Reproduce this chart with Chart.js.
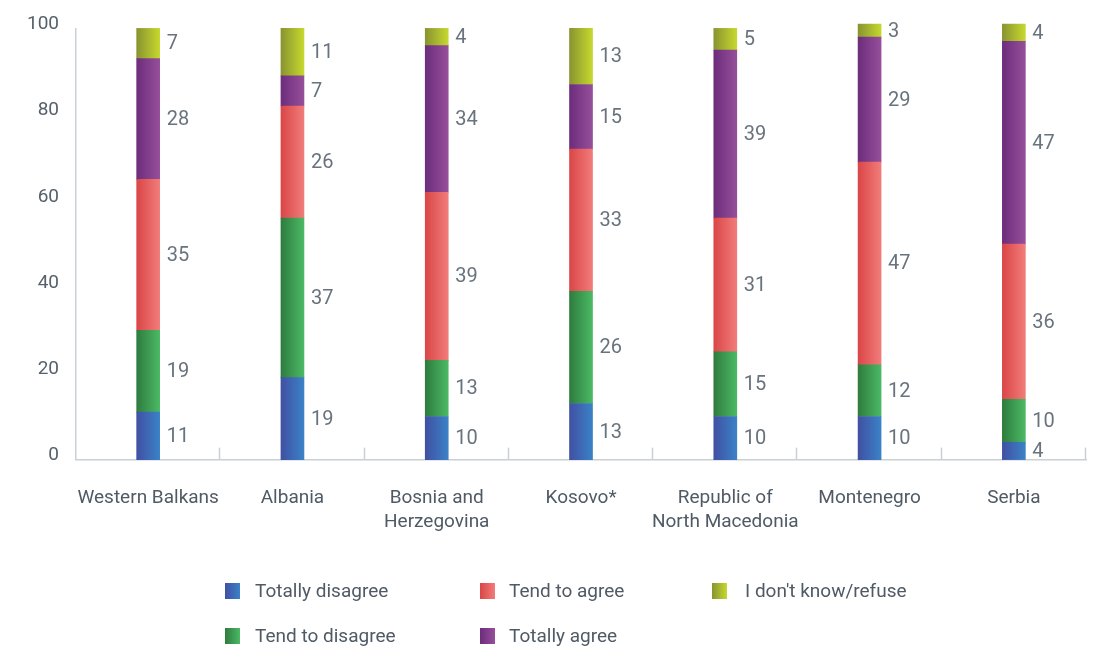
<!DOCTYPE html>
<html lang="en">
<head>
  <meta charset="UTF-8">
  <title>Stacked answers by economy</title>
  <script src="https://cdn.jsdelivr.net/npm/chart.js"></script>
  <style>
    html, body { margin: 0; padding: 0; background: #fff; }
    #wrap { position: relative; width: 1106px; height: 648px; }
    #chart { position: absolute; left: 0; top: 0; }
    .legend-item {
      position: absolute;
      font: 19px Roboto, sans-serif;
      color: #4f5a65;
      line-height: 20px;
      white-space: nowrap;
    }
    .legend-item i {
      position: absolute;
      width: 15px;
      height: 16px;
      top: 2px;
    }
  </style>
</head>
<body>
  <div id="wrap">
    <canvas id="chart" width="1106" height="648"></canvas>
    <div id="legend"></div>
  </div>

  <script>
    // Categories and series values
    var categories = ["Western Balkans", "Albania", ["Bosnia and", "Herzegovina"], "Kosovo*", ["Republic of", "North Macedonia"], "Montenegro", "Serbia"];
    var seriesNames = ["Totally disagree", "Tend to disagree", "Tend to agree", "Totally agree", "I don't know/refuse"];
    var totallyDisagree = [11, 19, 10, 13, 10, 10, 4];
    var tendToDisagree = [19, 37, 13, 26, 15, 12, 10];
    var tendToAgree = [35, 26, 39, 33, 31, 47, 36];
    var totallyAgree = [28, 7, 34, 15, 39, 29, 47];
    var dontKnow = [7, 11, 4, 13, 5, 3, 4];
    var yTicks = [0, 20, 40, 60, 80, 100];

    // left (dark) / right (light) colours of each series
    var gradients = [
      ["#4150a3", "#3a82c6"],
      ["#2e7c3e", "#4bb965"],
      ["#da4647", "#f17c7a"],
      ["#6c2d7c", "#964f9a"],
      ["#899430", "#c6d82e"]
    ];

    var BAR_W = 23;

    function barFill(index) {
      return function(ctx) {
        var chart = ctx.chart;
        var xScale = chart.scales.x;
        if (!chart.chartArea || !xScale) {
          return gradients[index][1];
        }
        var cx = xScale.getPixelForValue(ctx.dataIndex);
        var g = chart.ctx.createLinearGradient(cx - BAR_W / 2, 0, cx + BAR_W / 2, 0);
        g.addColorStop(0, gradients[index][0]);
        g.addColorStop(1, gradients[index][1]);
        return g;
      };
    }

    var allValues = [totallyDisagree, tendToDisagree, tendToAgree, totallyAgree, dontKnow];
    var datasets = [];
    for (var i = 0; i < allValues.length; i++) {
      datasets.push({
        label: seriesNames[i],
        data: allValues[i],
        backgroundColor: barFill(i),
        borderWidth: 0,
        barThickness: BAR_W,
        clip: false
      });
    }

    // value labels to the right of every segment
    var segmentLabels = {
      id: "segmentLabels",
      afterDatasetsDraw: function(chart) {
        var c = chart.ctx;
        c.save();
        c.font = "20px Roboto, sans-serif";
        c.fillStyle = "#68737d";
        c.textAlign = "left";
        c.textBaseline = "middle";
        chart.data.datasets.forEach(function(ds, di) {
          var meta = chart.getDatasetMeta(di);
          meta.data.forEach(function(bar, j) {
            var y = (bar.y + bar.base) / 2;
            c.fillText(String(ds.data[j]), bar.x + BAR_W / 2 + 7, y + 1);
          });
        });
        c.restore();
      }
    };

    // small upward ticks between the categories
    var upTicks = {
      id: "upTicks",
      afterDraw: function(chart) {
        var a = chart.chartArea;
        var c = chart.ctx;
        var n = categories.length;
        c.save();
        c.strokeStyle = "#c9d0d6";
        c.lineWidth = 1.5;
        for (var k = 1; k <= n; k++) {
          var x = Math.round(a.left + k * (a.right - a.left) / n) - 0.5;
          c.beginPath();
          c.moveTo(x, a.bottom);
          c.lineTo(x, a.bottom - 12);
          c.stroke();
        }
        c.restore();
      }
    };

    new Chart(document.getElementById("chart"), {
      type: "bar",
      data: { labels: categories, datasets: datasets },
      options: {
        responsive: false,
        animation: false,
        layout: { padding: { left: 10, right: 20, top: 24, bottom: 95 } },
        plugins: {
          legend: { display: false },
          tooltip: { enabled: false }
        },
        scales: {
          x: {
            stacked: true,
            grid: { display: false },
            border: { display: true, color: "#c9d0d6", width: 1.5 },
            ticks: {
              autoSkip: false,
              maxRotation: 0,
              padding: 18,
              color: "#4f5a65",
              font: { family: "Roboto", size: 19, lineHeight: 1.3 }
            }
          },
          y: {
            stacked: true,
            min: 0,
            max: 100,
            afterBuildTicks: function(axis) {
              axis.ticks = yTicks.map(function(v) { return { value: v }; });
            },
            grid: { display: false, drawTicks: false },
            border: { display: true, color: "#c9d0d6", width: 1.5 },
            ticks: {
              padding: 17,
              labelOffset: -4,
              color: "#56616c",
              font: { family: "Roboto", size: 19 }
            }
          }
        }
      },
      plugins: [segmentLabels, upTicks]
    });

    // HTML legend laid out in three columns, two rows
    var legendPos = [
      [225, 581], [225, 626], [480, 581], [480, 626], [712, 581]
    ];
    var textOffset = [30, 30, 29, 29, 33];
    var legend = document.getElementById("legend");
    for (var m = 0; m < seriesNames.length; m++) {
      var item = document.createElement("div");
      item.className = "legend-item";
      item.style.left = legendPos[m][0] + "px";
      item.style.top = legendPos[m][1] + "px";
      item.style.paddingLeft = textOffset[m] + "px";
      var box = document.createElement("i");
      box.style.left = "0px";
      box.style.background = "linear-gradient(to right, " + gradients[m][0] + ", " + gradients[m][1] + ")";
      item.appendChild(box);
      item.appendChild(document.createTextNode(seriesNames[m]));
      legend.appendChild(item);
    }
  </script>
</body>
</html>
